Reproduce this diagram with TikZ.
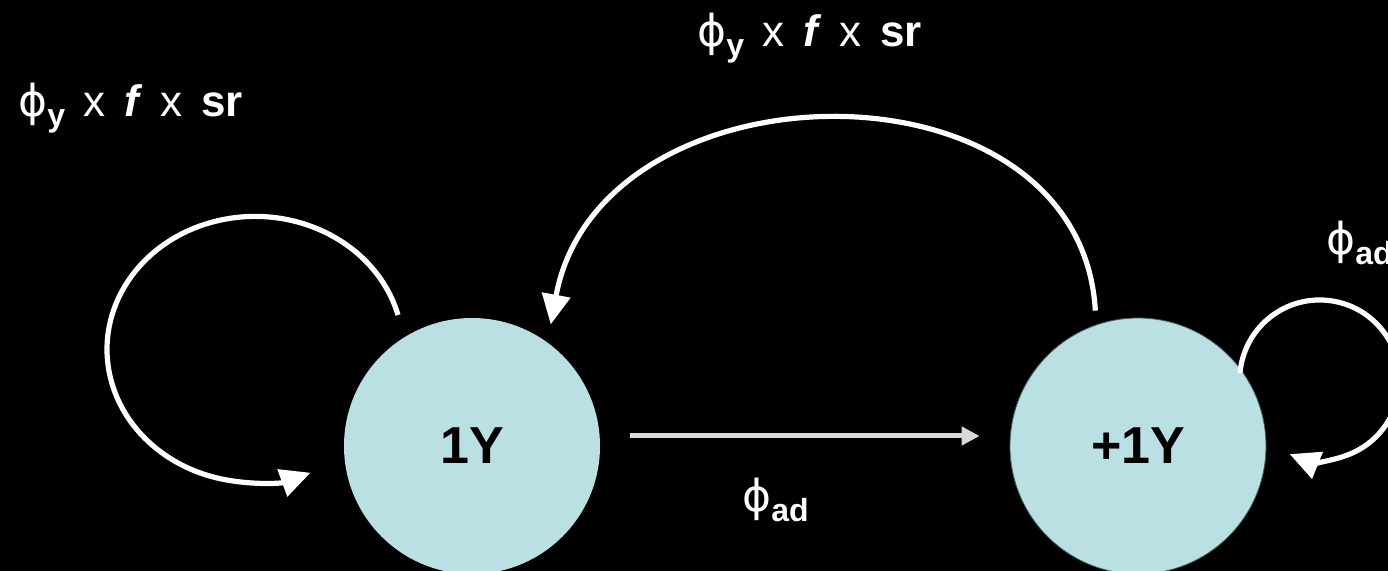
\documentclass[tikz,border=0pt]{standalone}
\usepackage{fontspec}
\setmainfont{Liberation Sans}
\newfontfamily\greekfont{DejaVu Sans}
\usepackage{xcolor}
\usetikzlibrary{arrows.meta, positioning}
\definecolor{stagefill}{RGB}{186,224,227}
\definecolor{stageedge}{RGB}{60,95,100}
\definecolor{flowgray}{RGB}{217,217,217}
\newcommand{\rate}[1]{{\greekfont ϕ}\raisebox{-5pt}{\fontsize{16}{16}\selectfont\bfseries #1}}
\newcommand{\gap}{\hspace{0.42em}}

\begin{document}
\begin{tikzpicture}[
  x=0.5pt, y=-0.5pt,
  stage/.style={circle, fill=stagefill, minimum size=128pt, inner sep=0pt, font=\fontsize{26}{30}\selectfont\bfseries},
  lbl/.style={text=white, inner sep=0pt, font=\fontsize{22}{26}\selectfont},
  link/.style={draw=white, line width=2.6pt, -{Triangle[length=15pt, width=14pt]}},
  flow/.style={draw=flowgray, line width=2.5pt, -{Triangle[length=9pt, width=9pt]}},
]

% Background
\fill[black] (0,0) rectangle (1388,571);
\useasboundingbox (0,0) rectangle (1388,571);

% Nodes
\node[stage] (oneY) at (472,446) {1Y};
\node[stage, draw=stageedge, line width=0.4pt] (plusY) at (1138,446) {+1Y};

% Labels
\node[lbl, anchor=base west] (selfL) at (18,117) {\rate{y}\gap x\gap\textbf{\textit{f}}\gap x\gap\textbf{sr}};
\node[lbl, anchor=base west] (back) at (697,47) {\rate{y}\gap x\gap\textbf{\textit{f}}\gap x\gap\textbf{sr}};
\node[lbl, anchor=base west] (move) at (742,512) {\rate{ad}};
\node[lbl, anchor=base west] (selfR) at (1326,255) {\rate{ad}};

% Loop starts
\coordinate (loopL) at (398,315);
\coordinate (loopR) at (1240,373);

% Arrows
\draw[flow, shorten <=15pt, shorten >=15pt] ([yshift=5pt]oneY.east) -- ([yshift=5pt]plusY.west);
\draw[link, shorten <=7pt, shorten >=9pt] (plusY.109) .. controls (1080,50) and (600,58) .. (oneY.54);
\draw[link] (loopL) arc[start angle=-15, end angle=-292, x radius=148, y radius=133];
\draw[link] (loopR) arc[start angle=-175, end angle=112, radius=80];

\end{tikzpicture}
\end{document}
